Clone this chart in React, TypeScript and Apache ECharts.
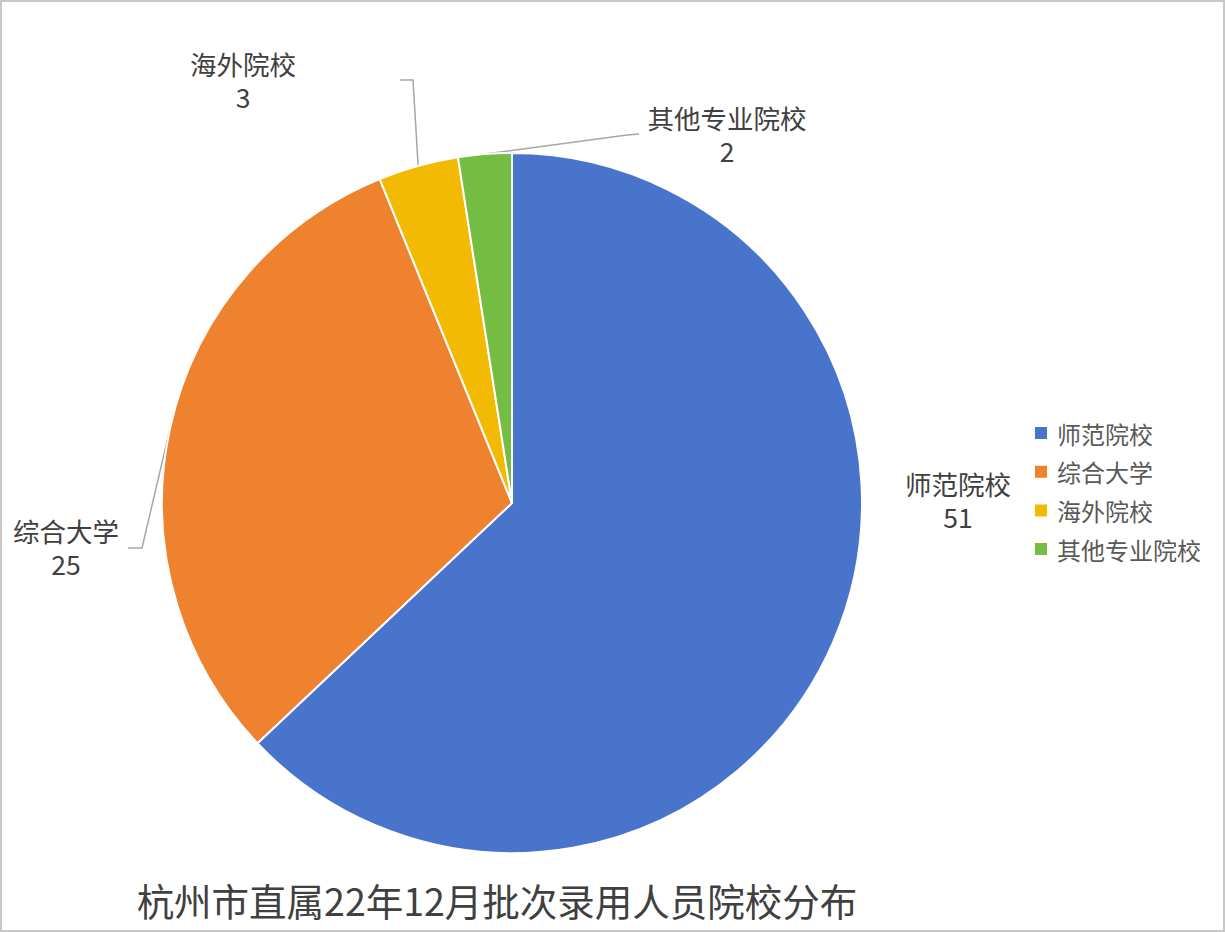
import { useEffect, useRef } from 'react'
import * as echarts from 'echarts'

const categories = ['师范院校', '综合大学', '海外院校', '其他专业院校']
const counts = [51, 25, 3, 2]
const colors = ['#4874CB', '#EE822F', '#F2BA02', '#75BD42']
const chartTitle = '杭州市直属22年12月批次录用人员院校分布'

// where each data label sits, and the bend of its leader line (Excel style)
const labelCenters = [
  [958, 500],
  [66, 547],
  [243, 80],
  [727, 134],
]
const leaderBends: (number[][] | null)[] = [
  null,
  [[142, 548], [128, 548]],
  [[413, 80], [400, 80]],
  [[627, 135], [639, 134]],
]

const FONT = '"Noto Sans CJK SC", "Microsoft YaHei", sans-serif'

export default function App() {
  const chartRef = useRef<HTMLDivElement>(null)

  useEffect(() => {
    if (!chartRef.current) return
    const chart = echarts.init(chartRef.current, null, { renderer: 'svg' })

    chart.setOption({
      animation: false,
      backgroundColor: '#fff',
      color: colors,
      textStyle: { fontFamily: FONT },
      graphic: [
        {
          type: 'rect',
          silent: true,
          z: -1,
          shape: { x: 1, y: 1, width: 1223, height: 930 },
          style: { fill: 'none', stroke: '#c8c8c8', lineWidth: 2 }
        },
        {
          type: 'text',
          x: 497,
          y: 899,
          style: {
            text: chartTitle,
            fontSize: 37.5,
            fontFamily: FONT,
            fill: '#404040',
            textAlign: 'center',
            textVerticalAlign: 'middle'
          }
        }
      ],
      legend: {
        orient: 'vertical',
        left: 1033,
        top: 421,
        padding: 0,
        icon: 'rect',
        itemWidth: 14,
        itemHeight: 14,
        itemGap: 14.7,
        data: categories,
        textStyle: {
          fontSize: 24,
          lineHeight: 24,
          color: '#595959',
          fontFamily: FONT,
          padding: [0, 0, 0, 4]
        }
      },
      series: [{
        type: 'pie',
        center: [512, 503],
        radius: 350,
        startAngle: 90,
        clockwise: true,
        avoidLabelOverlap: false,
        itemStyle: { borderColor: '#fff', borderWidth: 2 },
        label: {
          show: true,
          position: 'outside',
          formatter: '{b}\n{c}',
          fontSize: 26.5,
          lineHeight: 33,
          color: '#404040',
          fontFamily: FONT
        },
        labelLine: {
          show: true,
          length: 20,
          length2: 10,
          lineStyle: { color: '#a6a6a6', width: 1.5 }
        },
        labelLayout: (p: any) => {
          const [x, y] = labelCenters[p.dataIndex]
          const out: any = { x, y, align: 'center', verticalAlign: 'middle' }
          const bend = leaderBends[p.dataIndex]
          if (bend && p.labelLinePoints && p.labelLinePoints.length) {
            out.labelLinePoints = [p.labelLinePoints[0], ...bend]
          }
          return out
        },
        emphasis: { disabled: true },
        data: categories.map((name, i) => ({
          name,
          value: counts[i],
          labelLine: i === 0 ? { show: false } : undefined
        }))
      }]
    })

    return () => {
      chart.dispose()
    }
  }, [])

  return (
    <div
      ref={chartRef}
      style={{ position: 'absolute', left: 0, top: 0, width: 1225, height: 932 }}
    />
  )
}
